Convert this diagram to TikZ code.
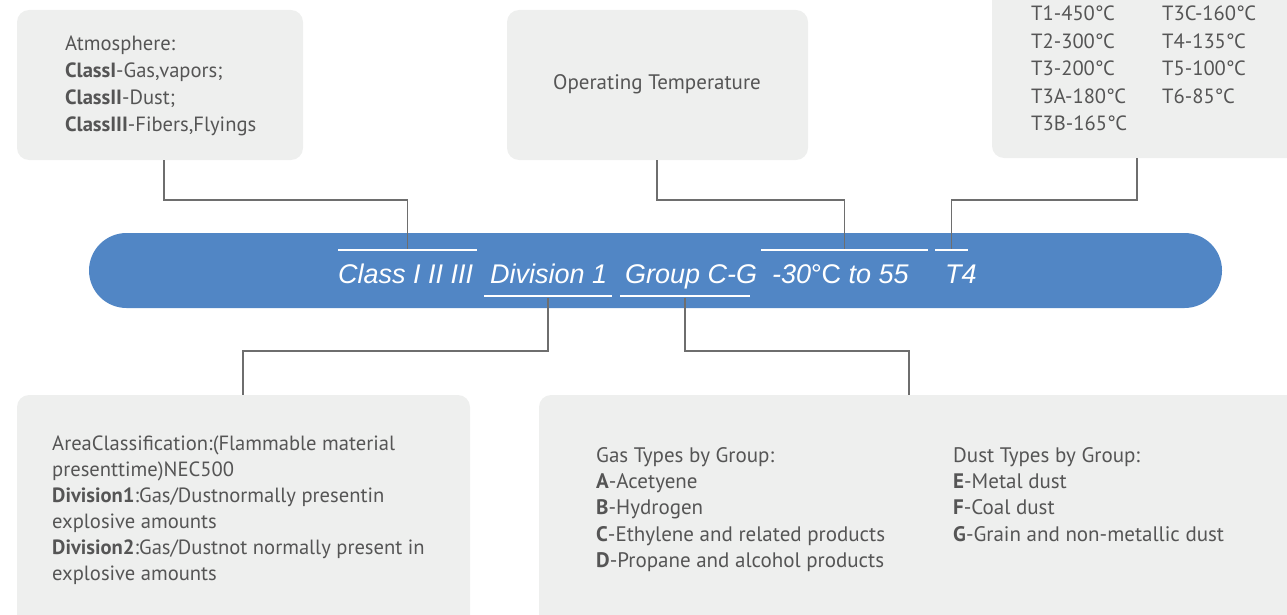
\documentclass[tikz,border=0pt]{standalone}
\usepackage{fontspec}
\setmainfont{PT Sans}
\newfontfamily\barfont{Liberation Sans}
\definecolor{boxgray}{HTML}{EEEFEE}
\definecolor{barblue}{HTML}{5186C5}
\definecolor{txtgray}{HTML}{555555}
\definecolor{linegray}{HTML}{6E6E6E}
\newcommand{\dgc}{°\kern-0.5pt C}
\tikzset{
  box/.style={fill=boxgray, rounded corners=12pt, inner sep=0pt},
  txt/.style={text=txtgray, inner sep=0pt, align=left, anchor=north west},
  bartxt/.style={text=white, inner sep=0pt, anchor=base west, font=\barfont\itshape\fontsize{27}{30}\selectfont},
  wline/.style={fill=white, inner sep=0pt, minimum height=2.6pt},
  conn/.style={draw=linegray, line width=1.1pt},
}
\begin{document}
\begin{tikzpicture}[x=1pt,y=-1pt]
\useasboundingbox (0,0) rectangle (1287,615);
% boxes
\node[box, minimum width=286pt, minimum height=150pt] (b1) at (160,85) {};
\node[box, minimum width=301pt, minimum height=150pt] (b2) at (657.5,85) {};
\node[box, minimum width=330pt, minimum height=190pt] (b3) at (1157,63) {};
\node[box, minimum width=453pt, minimum height=240pt] (b4) at (243.5,515) {};
\node[box, minimum width=780pt, minimum height=240pt] (b5) at (929,515) {};
% bar
\node[fill=barblue, rounded corners=37.5pt, minimum width=1133pt, minimum height=75pt, inner sep=0pt] (bar) at (655.5,270.5) {};
% bar texts
\node[bartxt] (tClass) at (338,283) {Class I II III};
\node[bartxt] (tDiv) at (490,283) {Division 1};
\node[bartxt] (tGroup) at (625,283) {Group C-G};
\node[bartxt] (tTemp) at (772,283) {-30{\upshape\dgc} to 55};
\node[bartxt] (tT4) at (945,283) {T4};
% white rules
\node[wline, minimum width=139pt] (ovClass) at (407.5,250) {};
\node[wline, minimum width=128pt] (ulDiv) at (548,296) {};
\node[wline, minimum width=130pt] (ulGroup) at (685,296) {};
\node[wline, minimum width=167pt] (ovTemp) at (844.5,250) {};
\node[wline, minimum width=33pt] (ovT4) at (951.5,250) {};
% box texts
\node[txt, font=\fontsize{20.6}{27}\selectfont] (x1) at (65,36) {Atmosphere:\\\textbf{ClassI}-Gas,vapors;\\\textbf{ClassII}-Dust;\\\textbf{ClassIII}-Fibers,Flyings};
\node[text=txtgray, inner sep=0pt, font=\fontsize{21}{27}\selectfont] (x2) at (657,84) {Operating Temperature};
\node[txt, font=\fontsize{20.6}{27.5}\selectfont] (x3a) at (1031,6) {T1-450\dgc\\T2-300\dgc\\T3-200\dgc\\T3A-180\dgc\\T3B-165\dgc};
\node[txt, font=\fontsize{20.6}{27.5}\selectfont] (x3b) at (1162,6) {T3C-160\dgc\\T4-135\dgc\\T5-100\dgc\\T6-85\dgc};
\node[txt, font=\fontsize{20.6}{26}\selectfont] (x4) at (52,436) {AreaClassification:(Flammable material\\presenttime)NEC500\\\textbf{Division1}:Gas/Dustnormally presentin\\explosive amounts\\\textbf{Division2}:Gas/Dustnot normally present in\\explosive amounts};
\node[txt, font=\fontsize{21}{26.3}\selectfont] (x5a) at (596,447) {Gas Types by Group:\\\textbf{A}-Acetyene\\\textbf{B}-Hydrogen\\\textbf{C}-Ethylene and related products\\\textbf{D}-Propane and alcohol products};
\node[txt, font=\fontsize{21}{26.3}\selectfont] (x5b) at (953,447) {Dust Types by Group:\\\textbf{E}-Metal dust\\\textbf{F}-Coal dust\\\textbf{G}-Grain and non-metallic dust};
% connectors
\coordinate (j1) at (164,200);
\coordinate (j2) at (657,200);
\coordinate (j3) at (1137,200);
\coordinate (j4) at (243,351);
\coordinate (j5) at (909,351);
\draw[conn] (j1 |- b1.south) -- (j1) -| (ovClass.north);
\draw[conn] (j2 |- b2.south) -- (j2) -| (ovTemp.north);
\draw[conn] (j3 |- b3.south) -- (j3) -| (ovT4.north);
\draw[conn] (ulDiv.south) |- (j4) -- (j4 |- b4.north);
\draw[conn] (ulGroup.south) |- (j5) -- (j5 |- b5.north);
\end{tikzpicture}
\end{document}
